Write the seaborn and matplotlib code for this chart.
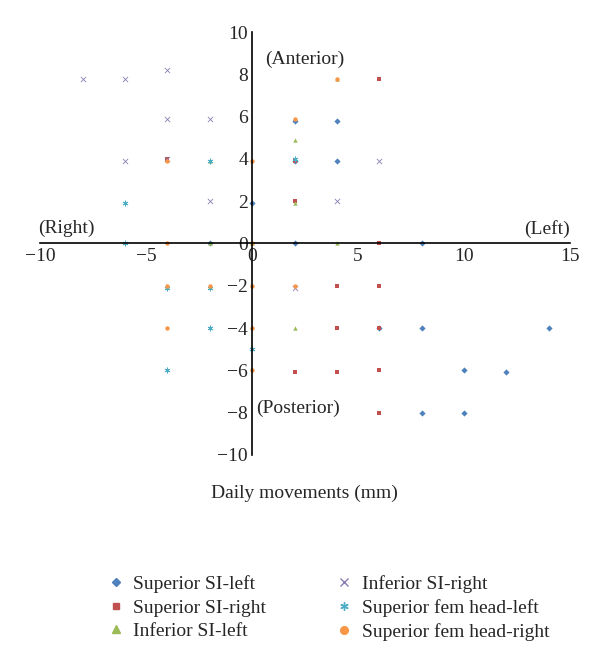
import pandas as pd
import matplotlib
matplotlib.use('Agg')
import matplotlib.pyplot as plt
from matplotlib.lines import Line2D
import seaborn as sns

# Daily movements (mm)
series = [
    'Superior SI-left',
    'Superior SI-right',
    'Inferior SI-left',
    'Inferior SI-right',
    'Superior fem head-left',
    'Superior fem head-right',
]

sup_si_left_x = [4, 4, 2, 0, 2, 8, 6, 8, 14, 10, 12, 8, 10, 2, -2]
sup_si_left_y = [5.8, 3.9, 3.9, 1.9, 0, 0, -4, -4, -4, -6, -6.1, -8, -8, 5.8, 0]

sup_si_right_x = [6, 2, 2, 6, 4, 6, 4, 6, 2, 4, 6, 6, -4]
sup_si_right_y = [7.8, 2, 3.9, 0, -2, -2, -4, -4, -6.1, -6.1, -6, -8, 4]

inf_si_left_x = [2, 2, -2, 2, -2, 4, -4, -2, 4, 0]
inf_si_left_y = [4.9, 1.9, 3.9, -4, 0, 0, -2, -2, 7.8, 0]

inf_si_right_x = [-8, -6, -4, -4, -2, -6, -4, -2, 4, 6, 2]
inf_si_right_y = [7.8, 7.8, 8.2, 5.9, 5.9, 3.9, 4, 2, 2, 3.9, -2.1]

sup_fem_left_x = [-6, -6, -2, 2, -2, -4, -2, 0, -4]
sup_fem_left_y = [1.9, 0, 3.9, 4, -2.1, -6, -4, -5, -2.1]

sup_fem_right_x = [2, 0, -4, 4, -4, 0, -4, -2, 2, -4, 0, 0, 0]
sup_fem_right_y = [5.9, 3.9, 3.9, 7.8, 0, -2, -2, -2, -2, -4, -4, -6, 0]

xs = [sup_si_left_x, sup_si_right_x, inf_si_left_x,
      inf_si_right_x, sup_fem_left_x, sup_fem_right_x]
ys = [sup_si_left_y, sup_si_right_y, inf_si_left_y,
      inf_si_right_y, sup_fem_left_y, sup_fem_right_y]

colors = ['#4F81BD', '#C0504D', '#9BBB59', '#8B7DB3', '#4BACC6', '#F79646']
markers = ['D', 's', '^', 'x', (6, 2, 0), 'o']

frames = []
for name, x, y in zip(series, xs, ys):
    frames.append(pd.DataFrame({'x': x, 'y': y, 'series': name}))
df = pd.concat(frames, ignore_index=True)

sns.set_style('white')
plt.rcParams['font.family'] = ['Liberation Serif', 'DejaVu Serif']
FS = 14

fig = plt.figure(figsize=(6, 6.68), dpi=100)
ax = fig.add_axes([0.067, 0.319, 0.883, 0.633])

# one call per series: seaborn won't mix filled and line markers in one mapping
for name, c, m in zip(series, colors, markers):
    sub = df[df['series'] == name]
    filled = m not in ['x', (6, 2, 0)]
    sns.scatterplot(
        data=sub, x='x', y='y', color=c, marker=m,
        s=10 if filled else 14,
        linewidth=0 if filled else 0.6,
        ax=ax
    )

ax.set_xlim(-10, 15)
ax.set_ylim(-10, 10)
ax.set_xticks(range(-10, 16, 5))
ax.set_yticks(range(-10, 11, 2))
ax.set_xticklabels(['\u221210', '\u22125', '0', '5', '10', '15'])
ax.set_yticklabels(['\u221210', '\u22128', '\u22126', '\u22124', '\u22122',
                    '0', '2', '4', '6', '8', '10'])
ax.tick_params(length=0, labelsize=FS, pad=3)

# cross-shaped axes through the origin
ax.spines['left'].set_position(('data', 0))
ax.spines['bottom'].set_position(('data', 0))
ax.spines['right'].set_visible(False)
ax.spines['top'].set_visible(False)
for side in ['left', 'bottom']:
    ax.spines[side].set_color('black')
    ax.spines[side].set_linewidth(1.2)

ax.set_xlabel('')
ax.set_ylabel('')

ax.text(0.6, 8.7, '(Anterior)', fontsize=FS, va='center')
ax.text(0.2, -7.8, '(Posterior)', fontsize=FS, va='center')
ax.text(-10.1, 0.7, '(Right)', fontsize=FS, va='center')
ax.text(15, 0.7, '(Left)', fontsize=FS, va='center', ha='right')

fig.text(0.507, 0.262, 'Daily movements (mm)', fontsize=FS, ha='center', va='center')

legend_sizes = [4.5, 5, 5.5, 6, 6, 5.5]
handles = []
for c, m, ms in zip(colors, markers, legend_sizes):
    handles.append(Line2D([], [], linestyle='none', marker=m, color=c,
                          markerfacecolor=c, markeredgecolor=c,
                          markersize=ms, markeredgewidth=1.0))
fig.legend(handles, series, loc='center', bbox_to_anchor=(0.548, 0.09),
           ncol=2, frameon=False, fontsize=FS, handletextpad=0.5,
           columnspacing=3.6, labelspacing=0.3, handlelength=0.8)

fig.savefig('out.png', dpi=100)
